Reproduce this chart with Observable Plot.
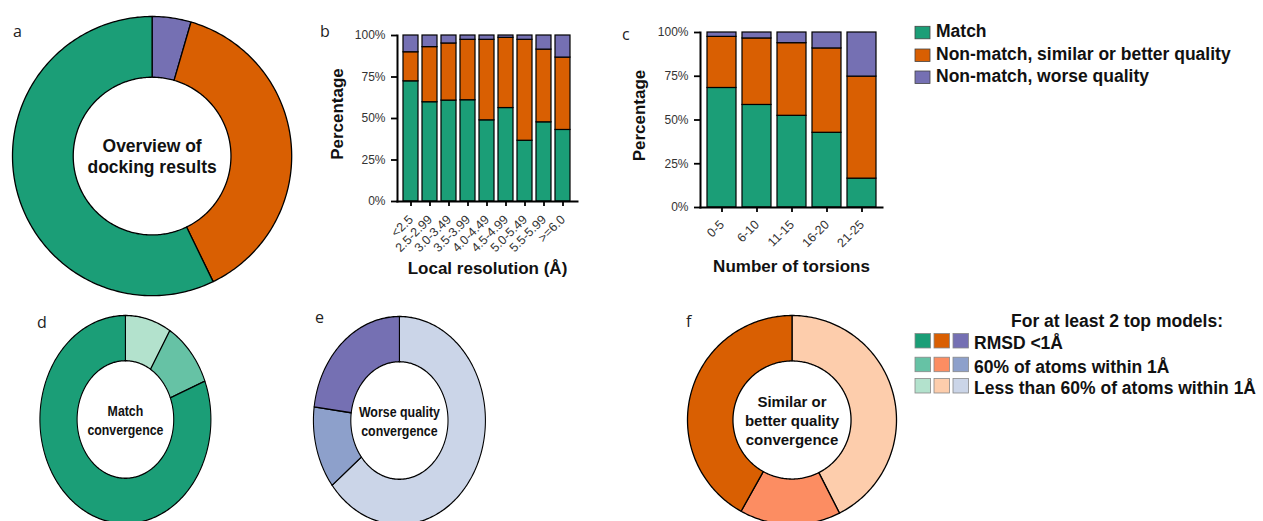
<!DOCTYPE html>
<html><head><meta charset="utf-8">
<script src="https://cdn.jsdelivr.net/npm/d3@7"></script>
<script src="https://cdn.jsdelivr.net/npm/@observablehq/plot@0.6"></script>
<style>
html,body{margin:0;padding:0;background:#fff;overflow:hidden;}
#fig{position:relative;width:1263px;height:521px;overflow:hidden;font-family:"Liberation Sans",Arial,sans-serif;}
#fig > svg, #fig > div {position:absolute;}
</style></head><body><div id="fig"></div>
<script>
// ---------- data ----------
const categories = ["Match", "Non-match, similar or better quality", "Non-match, worse quality"];
const categoryColors = ["#1b9e77", "#d95f02", "#7570b3"];
const overviewValues = [57.2, 38.3, 4.5]; // match, similar/better, worse (%)

const resolutionBins = ["<2.5", "2.5-2.99", "3.0-3.49", "3.5-3.99", "4.0-4.49", "4.5-4.99", "5.0-5.49", "5.5-5.99", ">=6.0"];
const resMatch   = [72.4, 59.8, 60.8, 61.0, 48.9, 56.3, 36.6, 47.7, 43.1];
const resSimilar = [17.5, 33.2, 34.4, 36.4, 48.5, 42.3, 60.8, 43.8, 43.6];
const resWorse   = [10.1,  7.0,  4.8,  2.6,  2.6,  1.4,  2.6,  8.5, 13.3];

const torsionBins = ["0-5", "6-10", "11-15", "16-20", "21-25"];
const torMatch   = [68.3, 58.6, 52.4, 42.7, 16.5];
const torSimilar = [29.2, 38.0, 41.5, 48.2, 58.3];
const torWorse   = [ 2.5,  3.4,  6.1,  9.1, 25.2];

const convergenceLevels = ["RMSD <1Å", "60% of atoms within 1Å", "Less than 60% of atoms within 1Å"];
const matchConvergence   = [81.0, 10.3, 8.7];
const worseConvergence   = [22.9, 12.8, 64.3];
const similarConvergence = [41.9, 15.6, 42.5];
const greenShades  = ["#1b9e77", "#66c2a5", "#b3e2cd"];
const orangeShades = ["#d95f02", "#fc8d62", "#fdcdac"];
const purpleShades = ["#7570b3", "#8da0cb", "#cbd5e8"];

const fig = document.getElementById("fig");
const FONT = '"Liberation Sans", Arial, sans-serif';

// ---------- donut ----------
function donut({values, colors, radius, inner, label, fontSize, lineHeight, left, top, scaleX = 1}) {
  const order = d3.range(values.length).reverse();
  const total = d3.sum(values);
  let acc = 0;
  const pts = [];
  for (const i of order) {
    const a0 = acc / total * 2 * Math.PI; acc += values[i]; const a1 = acc / total * 2 * Math.PI;
    const n = Math.max(2, Math.ceil((a1 - a0) / (Math.PI / 180)));
    for (let k = 0; k <= n; k++) { const a = a0 + (a1 - a0) * k / n; pts.push({slice: i, color: colors[i], x: Math.sin(a), y: Math.cos(a)}); }
    for (let k = n; k >= 0; k--) { const a = a0 + (a1 - a0) * k / n; pts.push({slice: i, color: colors[i], x: inner * Math.sin(a), y: inner * Math.cos(a)}); }
  }
  const size = 2 * radius + 4;
  const p = Plot.plot({
    width: size, height: size, margin: 2,
    style: {fontFamily: FONT, background: "transparent", overflow: "visible"},
    x: {domain: [-1, 1], axis: null}, y: {domain: [-1, 1], axis: null},
    color: {type: "identity"},
    marks: [
      Plot.line(pts, {x: "x", y: "y", z: "slice", fill: "color", stroke: "black", strokeWidth: 1.3, curve: "linear-closed"}),
      Plot.text([label], {frameAnchor: "middle", text: d => d, fontSize, fontWeight: "bold", lineHeight, fill: "#111"})
    ]
  });
  p.style.left = left + "px"; p.style.top = top + "px"; p.style.position = "absolute";
  if (scaleX !== 1) { p.style.transform = `scaleX(${scaleX})`; p.style.transformOrigin = "center center"; }
  fig.appendChild(p);
}

donut({values: overviewValues, colors: categoryColors, radius: 139.6, inner: 0.565, label: "Overview of\ndocking results", fontSize: 17.5, lineHeight: 1.2, left: 152 - 141.6, top: 155.3 - 141.6});
donut({values: matchConvergence, colors: greenShades, radius: 104, inner: 0.565, label: "Match\nconvergence", fontSize: 15, lineHeight: 1.3, left: 124.5 - 106, top: 419 - 106, scaleX: 85.5 / 104});
donut({values: worseConvergence, colors: purpleShades, radius: 104, inner: 0.565, label: "Worse quality\nconvergence", fontSize: 15, lineHeight: 1.3, left: 399 - 106, top: 419.5 - 106, scaleX: 86 / 104});
donut({values: similarConvergence, colors: orangeShades, radius: 104.5, inner: 0.565, label: "Similar or\nbetter quality\nconvergence", fontSize: 15, lineHeight: 1.27, left: 791.5 - 106.5, top: 419.5 - 106.5});

// ---------- stacked bars ----------
function bars({bins, match, similar, worse, left, top, width, height, ml, mr, mt, mb, pi, po, xlabel, ylabDx, ylabDy, xlabDy, xTickPad}) {
  const data = bins.flatMap((b, i) => [
    {bin: b, cat: categories[0], v: match[i]},
    {bin: b, cat: categories[1], v: similar[i]},
    {bin: b, cat: categories[2], v: worse[i]}
  ]);
  const p = Plot.plot({
    width, height, marginLeft: ml, marginRight: mr, marginTop: mt, marginBottom: mb,
    style: {fontFamily: FONT, fontSize: "12px", background: "transparent", overflow: "visible"},
    x: {domain: bins, paddingInner: pi, paddingOuter: po, label: null},
    y: {domain: [0, 100], label: null},
    color: {domain: categories, range: categoryColors},
    marks: [
      Plot.barY(data, {x: "bin", y: "v", fill: "cat", stroke: "black", strokeWidth: 1.2}),
      Plot.axisY({ticks: [0, 25, 50, 75, 100], tickFormat: d => d + "%", tickSize: 6, tickPadding: 6, stroke: "black", fill: "#333", strokeWidth: 1.8, label: null}),
      Plot.axisX({tickRotate: -45, tickSize: 5, tickPadding: xTickPad, stroke: "black", fill: "#333", strokeWidth: 1.8, label: null, fontSize: 12.5}),
      Plot.frame({anchor: "left", strokeWidth: 2}),
      Plot.frame({anchor: "bottom", strokeWidth: 2}),
      Plot.text(["Percentage"], {frameAnchor: "left", text: d => d, dx: ylabDx, dy: ylabDy, rotate: -90, textAnchor: "middle", lineAnchor: "middle", fontSize: 17, fontWeight: "bold", fill: "#111"}),
      Plot.text([xlabel], {frameAnchor: "bottom", text: d => d, dy: xlabDy, textAnchor: "middle", lineAnchor: "middle", fontSize: 17, fontWeight: "bold", fill: "#111"})
    ]
  });
  p.style.left = left + "px"; p.style.top = top + "px"; p.style.position = "absolute";
  fig.appendChild(p);
}

bars({bins: resolutionBins, match: resMatch, similar: resSimilar, worse: resWorse,
  left: 310, top: 0, width: 280, height: 290, ml: 87, mr: 13, mt: 35, mb: 89, pi: 0.21, po: 0.15,
  xlabel: "Local resolution (Å)", ylabDx: -60, ylabDy: -4.5, xlabDy: 67, xTickPad: 11});
bars({bins: torsionBins, match: torMatch, similar: torSimilar, worse: torWorse,
  left: 620, top: 0, width: 280, height: 290, ml: 80, mr: 18, mt: 32, mb: 83, pi: 0.18, po: 0.17,
  xlabel: "Number of torsions", ylabDx: -61, ylabDy: -4.5, xlabDy: 59, xTickPad: 10});

// ---------- panel letters and legends ----------
const svg = d3.select(fig).append("svg")
  .attr("width", 1263).attr("height", 521)
  .style("left", "0px").style("top", "0px").style("pointer-events", "none");

const letters = [["a", 13, 37], ["b", 320, 37], ["c", 622, 40], ["d", 37, 328], ["e", 315, 323], ["f", 686, 327]];
svg.selectAll("text.letter").data(letters).join("text")
  .attr("x", d => d[1]).attr("y", d => d[2]).text(d => d[0])
  .attr("font-family", '"Open Sans", "DejaVu Sans", sans-serif').attr("font-size", 16).attr("fill", "#222");

const LEGEND_FS = 17.5;
const topRows = [37.3, 60, 82];
categories.forEach((c, i) => {
  svg.append("rect").attr("x", 915).attr("y", topRows[i] - 11).attr("width", 15).attr("height", 12.5)
    .attr("fill", categoryColors[i]).attr("stroke", "#444").attr("stroke-width", 0.8);
  svg.append("text").attr("x", 936).attr("y", topRows[i]).text(c)
    .attr("font-family", FONT).attr("font-weight", "bold").attr("font-size", LEGEND_FS).attr("fill", "#111");
});

svg.append("text").attr("x", 1117).attr("y", 326.7).attr("text-anchor", "middle").text("For at least 2 top models:")
  .attr("font-family", FONT).attr("font-weight", "bold").attr("font-size", LEGEND_FS).attr("fill", "#111");
const botRows = [349, 372.7, 394];
const shadeCols = [greenShades, orangeShades, purpleShades];
convergenceLevels.forEach((lv, i) => {
  shadeCols.forEach((shades, j) => {
    svg.append("rect").attr("x", 915 + j * 19).attr("y", botRows[i] - 15.5).attr("width", 15.5).attr("height", 14.5)
      .attr("fill", shades[i]).attr("stroke", "#888").attr("stroke-width", 0.8);
  });
  svg.append("text").attr("x", 974).attr("y", botRows[i]).text(lv)
    .attr("font-family", FONT).attr("font-weight", "bold").attr("font-size", LEGEND_FS).attr("fill", "#111");
});
</script>
</body></html>
